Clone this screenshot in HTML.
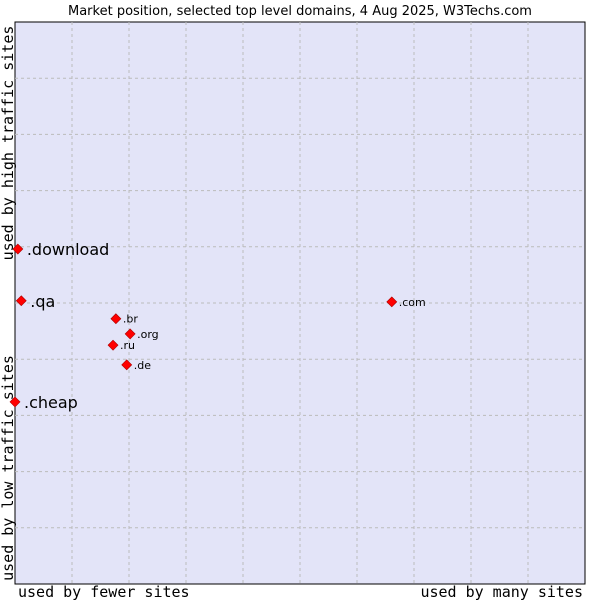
<!DOCTYPE html>
<html><head><style>
body{margin:0;background:#fff;}
svg text{font-family:"DejaVu Sans","Liberation Sans",sans-serif;}
.mono{font-family:"DejaVu Sans Mono","Liberation Mono",monospace !important;}
</style></head><body>
<svg width="600" height="600" xmlns="http://www.w3.org/2000/svg">
<text x="300" y="15" text-anchor="middle" font-size="13" fill="#000">Market position, selected top level domains, 4 Aug 2025, W3Techs.com</text>
<rect x="15" y="22" width="570" height="562" fill="#e3e4f8" stroke="#000" stroke-width="1"/>
<g id="grid"></g>
<g id="points"></g>
<text class="mono" transform="translate(13,143) rotate(-90)" text-anchor="middle" font-size="15">used by high traffic sites</text>
<text class="mono" transform="translate(13,468) rotate(-90)" text-anchor="middle" font-size="15">used by low traffic sites</text>
<text class="mono" x="18" y="597" font-size="15">used by fewer sites</text>
<text class="mono" x="583" y="597" text-anchor="end" font-size="15">used by many sites</text>
</svg>
<script>
const names=[".download",".qa",".cheap",".com",".br",".org",".ru",".de"];
const xVals=[0.5,1.1,0,66.1,17.7,20.2,17.2,19.6];
const yVals=[59.6,50.4,32.4,50.2,47.2,44.5,42.5,39.0];
const bigLabel=[true,true,true,false,false,false,false,false];
const NS="http://www.w3.org/2000/svg";
const X=v=>15+v*5.7, Y=v=>584-v*5.62;
const grid=document.getElementById('grid');
for(let i=1;i<10;i++){
 const l=document.createElementNS(NS,'line');
 
 
 l.setAttribute('x1',X(i*10));l.setAttribute('x2',X(i*10));l.setAttribute('y1',22);l.setAttribute('y2',584);
 l.setAttribute('stroke','#bbb');l.setAttribute('stroke-dasharray','3,3');grid.appendChild(l);
 const h=document.createElementNS(NS,'line');
 
 
 h.setAttribute('y1',Y(i*10));h.setAttribute('y2',Y(i*10));h.setAttribute('x1',15);h.setAttribute('x2',585);
 h.setAttribute('stroke','#bbb');h.setAttribute('stroke-dasharray','3,3');grid.appendChild(h);
}
const pts=document.getElementById('points');
names.forEach((n,i)=>{
 const cx=X(xVals[i]),cy=Y(yVals[i]);
 const d=document.createElementNS(NS,'polygon');
 
 
 d.setAttribute('points',`${cx},${cy-5} ${cx+5},${cy} ${cx},${cy+5} ${cx-5},${cy}`);
 d.setAttribute('fill','#f00');d.setAttribute('stroke','#a00');d.setAttribute('stroke-width','0.6');
 pts.appendChild(d);
 const t=document.createElementNS(NS,'text');
 
 
 const big=bigLabel[i];
 t.setAttribute('x',cx+(big?9:7));t.setAttribute('y',cy+(big?6:4));
 t.setAttribute('font-size',big?16:11);
 t.textContent=n;pts.appendChild(t);
});
</script>
</body></html>
